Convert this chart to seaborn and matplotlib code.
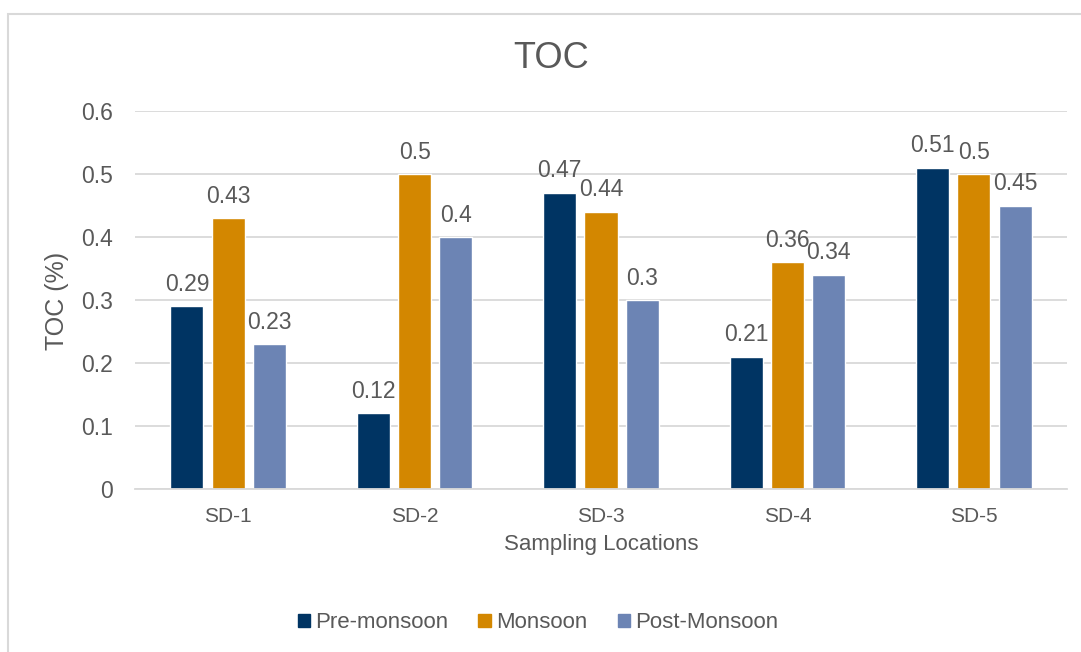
import matplotlib.pyplot as plt
import matplotlib.patches as mpatches
import pandas as pd
import seaborn as sns

locations = ["SD-1", "SD-2", "SD-3", "SD-4", "SD-5"]
seasons = ["Pre-monsoon", "Monsoon", "Post-Monsoon"]
pre_monsoon = [0.29, 0.12, 0.47, 0.21, 0.51]
monsoon = [0.43, 0.50, 0.44, 0.36, 0.50]
post_monsoon = [0.23, 0.40, 0.30, 0.34, 0.45]
colors = ["#003463", "#D38700", "#6C84B4"]

df = pd.DataFrame({
    "location": locations * 3,
    "season": [s for s in seasons for _ in locations],
    "toc": pre_monsoon + monsoon + post_monsoon,
})

sns.set_theme(style="white")
plt.rcParams["font.family"] = ["Liberation Sans", "DejaVu Sans"]
text_col = "#595959"
grid_col = "#D9D9D9"

fig = plt.figure(figsize=(10.81, 6.52), dpi=100)
ax = fig.add_axes([135 / 1081, 1 - 489 / 652, 932 / 1081, 378 / 652])

sns.barplot(data=df, x="location", y="toc", hue="season", order=locations,
            hue_order=seasons, palette=colors, width=0.665, gap=0.2,
            saturation=1, legend=False, ax=ax, errorbar=None)

for cont in ax.containers:
    ax.bar_label(cont, labels=[f"{v:g}" for v in cont.datavalues],
                 padding=7.5, fontsize=16.5, color=text_col)

ax.set_ylim(0, 0.6)
ax.set_xlim(-0.5, 4.5)
ax.set_yticks([0, 0.1, 0.2, 0.3, 0.4, 0.5, 0.6])
ax.set_yticklabels(["0", "0.1", "0.2", "0.3", "0.4", "0.5", "0.6"])
ax.yaxis.grid(True, color=grid_col, linewidth=1.3)
ax.set_axisbelow(True)
for side in ["top", "right", "left"]:
    ax.spines[side].set_visible(False)
ax.spines["bottom"].set_color(grid_col)
ax.spines["bottom"].set_linewidth(1.3)
ax.tick_params(axis="both", length=0, labelcolor=text_col)
ax.tick_params(axis="x", pad=13, labelsize=15)
ax.tick_params(axis="y", pad=16, labelsize=16.5)
ax.set_xlabel("Sampling Locations", fontsize=16, color=text_col, labelpad=6)
ax.set_ylabel("")

fig.text(57 / 1081, 1 - 301 / 652, "TOC (%)", fontsize=18, color=text_col,
         rotation=90, ha="center", va="center")
fig.text(551 / 1081, 1 - 58 / 652, "TOC", fontsize=26, color=text_col,
         ha="center", va="center")

handles = [mpatches.Patch(color=c, label=s) for c, s in zip(colors, seasons)]
fig.legend(handles=handles, loc="center", bbox_to_anchor=(538 / 1081, 1 - 623 / 652),
           ncol=3, frameon=False, fontsize=16, labelcolor=text_col,
           handlelength=0.55, handleheight=0.55, handletextpad=0.25, columnspacing=1.35)

border = mpatches.Rectangle((8 / 1081, -0.1), 1.2, 1.1 - 14 / 652, fill=False,
                            edgecolor=grid_col, linewidth=1.5,
                            transform=fig.transFigure, clip_on=False)
fig.patches.append(border)

fig.savefig("out.png", dpi=100)
